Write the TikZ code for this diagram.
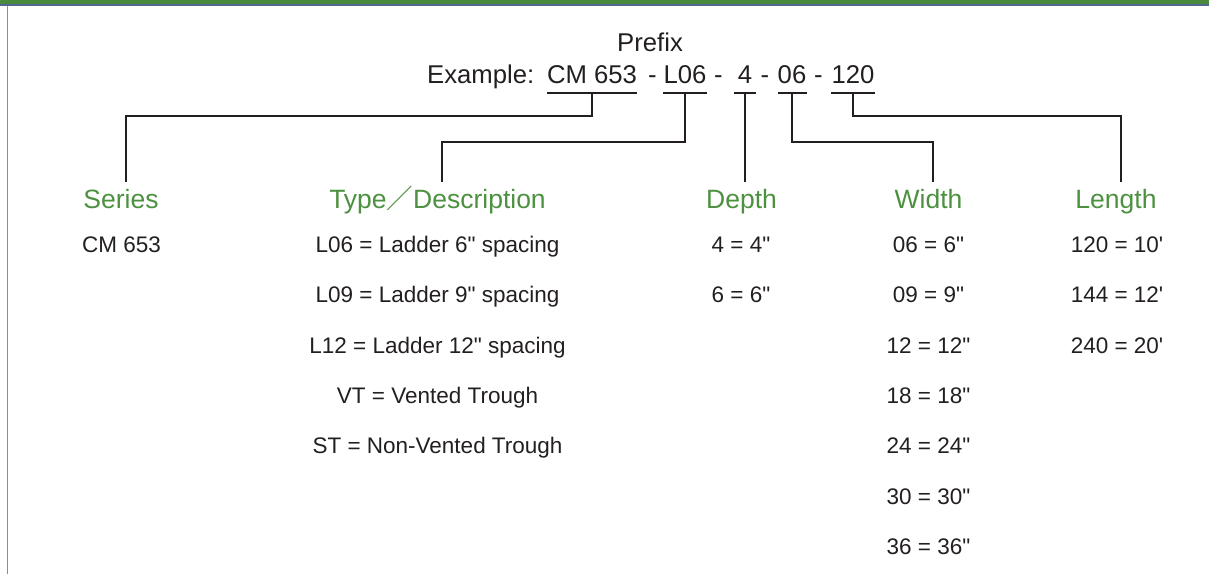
\documentclass[tikz,border=0pt]{standalone}
\usepackage{fontspec}
\setmainfont{Liberation Sans}
\newfontfamily\cjk{Noto Sans CJK SC}
\usepackage{tikz}
\definecolor{hdrgreen}{RGB}{76,145,64}
\definecolor{bargreen}{RGB}{74,138,60}
\definecolor{barblue}{RGB}{80,105,145}
\definecolor{framegray}{RGB}{140,140,150}
\definecolor{ink}{RGB}{35,31,32}
\newcommand{\inch}{\textquotedbl}
\newcommand{\foot}{\textquotesingle}
\tikzset{
  Head/.style  = {text=hdrgreen, font=\fontsize{26.5}{30}\selectfont, anchor=base,
                  inner xsep=0pt, inner ysep=7.5pt, text height=19pt, text depth=6pt},
  Entry/.style = {text=ink, font=\fontsize{22.5}{26}\selectfont, anchor=base, inner sep=0pt},
  Code/.style  = {text=ink, font=\fontsize{25.7}{30}\selectfont, anchor=base,
                  inner xsep=0pt, inner ysep=9.4pt, text depth=0pt},
  Link/.style  = {draw=ink, line width=2pt}
}

\begin{document}
\begin{tikzpicture}[x=1pt, y=-1pt]
  \useasboundingbox (0,0) rectangle (1209,574);
  \fill[bargreen] (0,0) rectangle (1209,3.7);
  \fill[barblue] (0,3.7) rectangle (1209,5.5);
  \fill[framegray] (6.8,5.5) rectangle (8.3,574);

  \node[Code] (pre) at (650,51.7) {Prefix};
  \node[Code, anchor=base west] (ex) at (427,83.3) {Example:};
  \node[Code] (pSer) at (592,83.3) {CM 653};
  \node[Code] (d1) at (652.5,83.3) {-};
  \node[Code] (pTyp) at (685,83.3) {L06};
  \node[Code] (d2) at (718.5,83.3) {-};
  \node[Code, inner xsep=4pt] (pDep) at (745,83.3) {4};
  \node[Code] (d3) at (765,83.3) {-};
  \node[Code] (pWid) at (792,83.3) {06};
  \node[Code] (d4) at (818.5,83.3) {-};
  \node[Code] (pLen) at (853,83.3) {120};

  \node[Head] (Ser) at (121,208.5) {Series};
  \node[Head] (Typ) at (437.5,208.5) {Type{\cjk ／}Description};
  \node[Head] (Dep) at (741.5,208.5) {Depth};
  \node[Head] (Wid) at (928.5,208.5) {Width};
  \node[Head] (Len) at (1116,208.5) {Length};

  \draw[Link] (pSer.south west) -- (pSer.south east);
  \draw[Link] (pTyp.south west) -- (pTyp.south east);
  \draw[Link] (pDep.south west) -- (pDep.south east);
  \draw[Link] (pWid.south west) -- (pWid.south east);
  \draw[Link] (pLen.south west) -- (pLen.south east);
  \draw[Link] (pSer.south) -- ++(0,23) -| ([xshift=5pt]Ser.north);
  \draw[Link] (pTyp.south) -- ++(0,49) -| ([xshift=4pt]Typ.north);
  \draw[Link] (pDep.south) -- (pDep.south |- Dep.north);
  \draw[Link] (pWid.south) -- ++(0,49) -| ([xshift=4pt]Wid.north);
  \draw[Link] (pLen.south) -- ++(0,23) -| ([xshift=5pt]Len.north);

  \node[Entry] (s1) at (121.5,252.5) {CM 653};

  \node[Entry] (t1) at (437.5,252.5) {L06 = Ladder 6\inch{} spacing};
  \node[Entry] (t2) at (437.5,302.5) {L09 = Ladder 9\inch{} spacing};
  \node[Entry] (t3) at (437.5,353) {L12 = Ladder 12\inch{} spacing};
  \node[Entry] (t4) at (437.5,403.5) {VT = Vented Trough};
  \node[Entry] (t5) at (437.5,453.5) {ST = Non-Vented Trough};

  \node[Entry] (e1) at (741,252.5) {4 = 4\inch};
  \node[Entry] (e2) at (741,302.5) {6 = 6\inch};

  \node[Entry] (w1) at (928.5,252.5) {06 = 6\inch};
  \node[Entry] (w2) at (928.5,302.5) {09 = 9\inch};
  \node[Entry] (w3) at (928.5,353) {12 = 12\inch};
  \node[Entry] (w4) at (928.5,403.5) {18 = 18\inch};
  \node[Entry] (w5) at (928.5,453.5) {24 = 24\inch};
  \node[Entry] (w6) at (928.5,504) {30 = 30\inch};
  \node[Entry] (w7) at (928.5,554) {36 = 36\inch};

  \node[Entry] (l1) at (1117,252.5) {120 = 10\foot};
  \node[Entry] (l2) at (1117,302.5) {144 = 12\foot};
  \node[Entry] (l3) at (1117,353) {240 = 20\foot};
\end{tikzpicture}
\end{document}
